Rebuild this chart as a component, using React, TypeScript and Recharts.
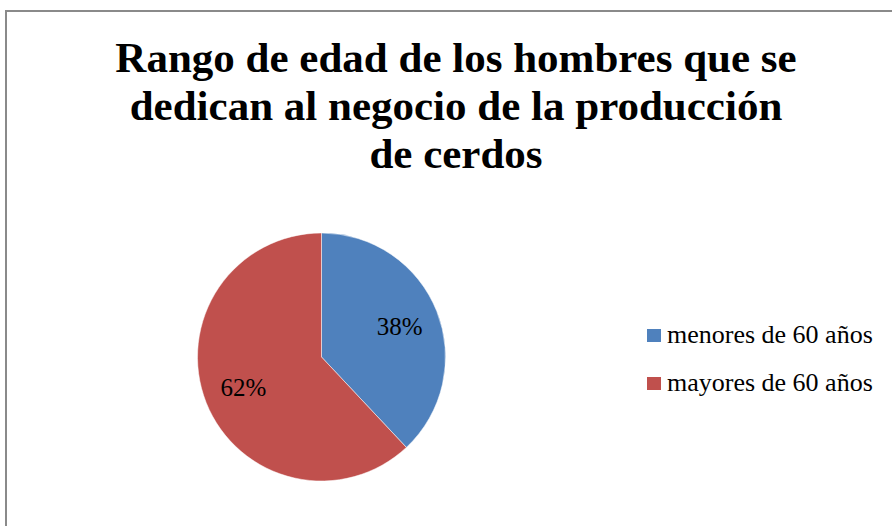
import { Cell, Legend, Pie, PieChart } from "recharts";

const CATEGORIES = ["menores de 60 años", "mayores de 60 años"];
const VALUES = [38, 62];
const COLORS = ["#4F81BD", "#C0504D"];
const TITLE_LINES = [
  "Rango de edad de los hombres que se",
  "dedican al negocio de la producción",
  "de cerdos",
];

const data = CATEGORIES.map((name, i) => ({ name, value: VALUES[i] }));
const FONT = '"Liberation Serif", "Times New Roman", serif';
const RAD = Math.PI / 180;

function SliceLabel(props: any) {
  const { cx, cy, midAngle, percent } = props;
  const r = 84;
  const x = cx + r * Math.cos(-midAngle * RAD);
  const y = cy + r * Math.sin(-midAngle * RAD);
  return (
    <text
      x={x}
      y={y}
      textAnchor="middle"
      dominantBaseline="central"
      fontFamily={FONT}
      fontSize={25}
      fill="#000"
    >
      {`${Math.round(percent * 100)}%`}
    </text>
  );
}

function LegendList() {
  return (
    <div style={{ fontFamily: FONT, fontSize: 26, color: "#000" }}>
      {data.map((d, i) => (
        <div
          key={d.name}
          style={{ display: "flex", alignItems: "center", height: 48 }}
        >
          <span
            style={{
              width: 14,
              height: 13,
              background: COLORS[i],
              marginRight: 6,
              display: "inline-block",
            }}
          />
          <span>{d.name}</span>
        </div>
      ))}
    </div>
  );
}

export default function App() {
  return (
    <div
      style={{
        position: "absolute",
        left: 0,
        top: 0,
        width: 892,
        height: 526,
        overflow: "hidden",
        background: "#fff",
      }}
    >
      <div
        style={{
          position: "absolute",
          left: 5,
          top: 10,
          width: 900,
          height: 540,
          border: "2px solid #8a8a8a",
          boxSizing: "border-box",
        }}
      />
      <div
        style={{
          position: "absolute",
          left: 0,
          top: 34,
          width: 912,
          textAlign: "center",
          fontFamily: FONT,
          fontWeight: "bold",
          fontSize: 43,
          lineHeight: "48px",
          color: "#000",
        }}
      >
        {TITLE_LINES.map((t) => (
          <div key={t}>{t}</div>
        ))}
      </div>
      <PieChart width={892} height={526} style={{ position: "absolute", left: 0, top: 0 }}>
        <Pie
          data={data}
          dataKey="value"
          nameKey="name"
          cx={316.5}
          cy={352}
          outerRadius={124}
          startAngle={90}
          endAngle={-270}
          stroke="#ffffff"
          strokeWidth={0.5}
          label={SliceLabel}
          labelLine={false}
          isAnimationActive={false}
        >
          {data.map((d, i) => (
            <Cell key={d.name} fill={COLORS[i]} />
          ))}
        </Pie>
        <Legend
          content={<LegendList />}
          wrapperStyle={{ position: "absolute", left: 647, top: 311, width: 245 }}
        />
      </PieChart>
    </div>
  );
}
